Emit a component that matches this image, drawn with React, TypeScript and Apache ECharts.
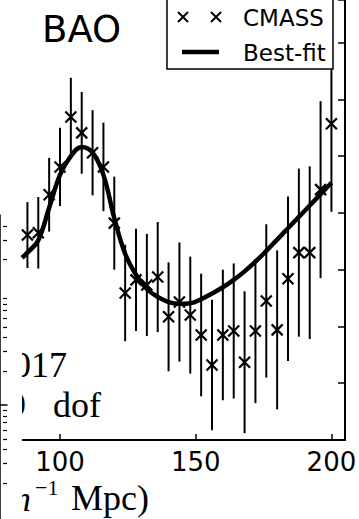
import React, { useEffect, useRef } from "react";
import * as echarts from "echarts";

// CMASS correlation function measurements (s in h^-1 Mpc)
const sValues = [88, 92, 96, 100, 104, 108, 112, 116, 120, 124, 128, 132, 136, 140, 144, 148, 152, 156, 160, 164, 168, 172, 176, 180, 184, 188, 192, 196, 200];
const xiValues = [36.1, 36.5, 43.2, 48.1, 56.9, 54.1, 50.6, 48.1, 38.2, 25.9, 28.2, 27.3, 28.7, 21.7, 24.3, 22.0, 18.5, 13.2, 18.5, 19.2, 13.7, 19.2, 24.5, 19.4, 28.4, 33.0, 33.0, 44.1, 55.7];
const xiErrors = [5.8, 6.3, 6.5, 6.9, 6.9, 7.2, 7.5, 7.8, 8.2, 8.5, 9.0, 9.0, 9.7, 9.6, 10.5, 10.3, 10.8, 11.5, 11.5, 11.9, 12.5, 12.7, 13.5, 14.0, 14.5, 14.8, 15.2, 15.6, 15.5];

// Best-fit model
const fitS = [86, 88, 92, 96, 100, 104, 108, 112, 116, 120, 124, 128, 132, 136, 140, 144, 148, 152, 156, 160, 164, 168, 172, 176, 180, 184, 188, 192, 196, 200];
const fitValues = [32.1, 33.0, 35.2, 40.9, 46.7, 50.0, 51.6, 50.6, 46.7, 39.1, 32.8, 29.1, 26.6, 25.2, 24.3, 24.0, 24.1, 24.8, 25.8, 26.9, 28.2, 29.7, 31.4, 33.3, 35.3, 37.3, 39.3, 41.3, 43.3, 45.3];

// Axis ticks
const sTicks = [100, 150, 200];
const xiTickStep = 10;

// Neighbouring log-scale panel (right spine only)
const sideRange = [0.0959, 50];
const sideMajor = [0.1, 1, 10];
const sideMinor = [0.2, 0.3, 0.4, 0.5, 0.6, 0.7, 0.8, 0.9, 2, 3, 4, 5, 6, 7, 8, 9, 20, 30, 40];

const SANS = "DejaVu Sans";
const SERIF = "Liberation Serif";

const axisLine = { show: true, lineStyle: { color: "#000", width: 2 } };

function App() {
  const ref = useRef<HTMLDivElement>(null);

  useEffect(() => {
    const chart = echarts.init(ref.current!, null, { renderer: "svg" });
    const lg = (v: number) => Math.log10(v);

    const cross = (cx: number, cy: number, h: number, w: number) => [
      { type: "line", shape: { x1: cx - h, y1: cy - h, x2: cx + h, y2: cy + h }, style: { stroke: "#000", lineWidth: w } },
      { type: "line", shape: { x1: cx - h, y1: cy + h, x2: cx + h, y2: cy - h }, style: { stroke: "#000", lineWidth: w } },
    ];

    const option: any = {
      animation: false,
      backgroundColor: "#fff",
      grid: [
        { left: 22, right: 14, top: 0, bottom: 79, containLabel: false, outerBoundsMode: "none" },
        { left: 0, right: 352, top: 215, bottom: 0, containLabel: false, outerBoundsMode: "none" },
      ],
      xAxis: [
        {
          gridIndex: 0,
          type: "value",
          min: 86,
          max: 205,
          axisLine,
          axisTick: { show: true, inside: true, length: 6, customValues: sTicks, lineStyle: { color: "#000", width: 1.5 } },
          axisLabel: { show: false },
          splitLine: { show: false },
        },
        {
          gridIndex: 1,
          type: "value",
          position: "top",
          min: 0,
          max: 1,
          axisLine: { show: true, lineStyle: { color: "#000", width: 1.5 } },
          axisTick: { show: false },
          axisLabel: { show: false },
          splitLine: { show: false },
        },
      ],
      yAxis: [
        {
          gridIndex: 0,
          type: "value",
          position: "right",
          min: 0,
          max: 77.5,
          interval: xiTickStep,
          axisLine,
          axisTick: { show: true, inside: true, length: 7, lineStyle: { color: "#000", width: 1.5 } },
          axisLabel: { show: false },
          splitLine: { show: false },
        },
        {
          gridIndex: 1,
          type: "value",
          position: "right",
          min: lg(sideRange[0]),
          max: lg(sideRange[1]),
          axisLine: { show: true, lineStyle: { color: "#000", width: 1.5 } },
          axisTick: { show: true, inside: true, length: 7, customValues: sideMajor.map(lg), lineStyle: { color: "#000", width: 1.2 } },
          axisLabel: { show: false },
          splitLine: { show: false },
        },
        {
          gridIndex: 1,
          type: "value",
          position: "right",
          min: lg(sideRange[0]),
          max: lg(sideRange[1]),
          axisLine: { show: false },
          axisTick: { show: true, inside: true, length: 4, customValues: sideMinor.map(lg), lineStyle: { color: "#000", width: 1.2 } },
          axisLabel: { show: false },
          splitLine: { show: false },
        },
      ],
      series: [
        {
          name: "Best-fit",
          type: "line",
          xAxisIndex: 0,
          yAxisIndex: 0,
          data: fitS.map((s, i) => [s, fitValues[i]]),
          smooth: 0.4,
          showSymbol: false,
          symbol: "none",
          lineStyle: { color: "#000", width: 4.5 },
          z: 3,
        },
        {
          name: "CMASS",
          type: "custom",
          xAxisIndex: 0,
          yAxisIndex: 0,
          data: sValues.map((s, i) => [s, xiValues[i], xiErrors[i]]),
          encode: { x: 0, y: 1 },
          renderItem: (params: any, api: any) => {
            const s = api.value(0);
            const v = api.value(1);
            const e = api.value(2);
            const c = api.coord([s, v]);
            const hi = api.coord([s, v + e]);
            const lo = api.coord([s, v - e]);
            return {
              type: "group",
              children: [
                { type: "line", shape: { x1: hi[0], y1: hi[1], x2: lo[0], y2: lo[1] }, style: { stroke: "#000", lineWidth: 2 } },
                ...cross(c[0], c[1], 5.5, 2.2),
              ],
            };
          },
          z: 4,
        },
      ],
    };

    chart.setOption(option);

    // s-axis tick labels, placed through the axis scale
    const axisY = chart.convertToPixel({ yAxisIndex: 0 }, 0) as number;
    const tickLabels = sTicks.map((s) => ({
      type: "text",
      z: 20,
      style: {
        text: String(s),
        x: chart.convertToPixel({ xAxisIndex: 0 }, s) as number,
        y: axisY + 22,
        fontSize: 26,
        fontFamily: SANS,
        fill: "#000",
        align: "center",
        verticalAlign: "middle",
        textAlign: "center",
        textVerticalAlign: "middle",
      },
    }));

    chart.setOption({
      graphic: [
        ...tickLabels,
        // text from the neighbouring panel, cut at the panel edge
        { type: "text", z: 1, style: { text: "017", x: 67, y: 365, fontSize: 36, fontFamily: SERIF, fill: "#000", align: "right", verticalAlign: "middle", textAlign: "right", textVerticalAlign: "middle" } },
        { type: "text", z: 1, style: { text: "9", x: 26, y: 405, fontSize: 36, fontFamily: SERIF, fill: "#000", align: "right", verticalAlign: "middle", textAlign: "right", textVerticalAlign: "middle" } },
        { type: "text", z: 1, style: { text: "dof", x: 53, y: 405, fontSize: 36, fontFamily: SERIF, fill: "#000", verticalAlign: "middle", textVerticalAlign: "middle" } },
        { type: "text", z: 1, style: { text: "h", x: 31, y: 499, fontSize: 36, fontFamily: SERIF, fontStyle: "italic", fill: "#000", align: "right", verticalAlign: "middle", textAlign: "right", textVerticalAlign: "middle" } },
        { type: "text", z: 1, style: { text: "\u22121", x: 35, y: 487, fontSize: 22, fontFamily: SERIF, fill: "#000", verticalAlign: "middle", textVerticalAlign: "middle" } },
        { type: "text", z: 1, style: { text: "Mpc)", x: 71, y: 498, fontSize: 36, fontFamily: SERIF, fill: "#000", verticalAlign: "middle", textVerticalAlign: "middle" } },
        { type: "rect", z: 2, shape: { x: 8, y: 340, width: 14, height: 179 }, style: { fill: "#fff" } },

        // panel title
        { type: "text", z: 20, style: { text: "BAO", x: 42, y: 29, fontSize: 37, fontFamily: SANS, fill: "#000", verticalAlign: "middle", textVerticalAlign: "middle" } },

        // legend
        { type: "rect", z: 100, shape: { x: 167, y: -10, width: 166, height: 79 }, style: { fill: "#fff", stroke: "#000", lineWidth: 1.5 } },
        ...cross(183, 17, 5, 2).map((el) => ({ ...el, z: 101 })),
        ...cross(216, 17, 5, 2).map((el) => ({ ...el, z: 101 })),
        { type: "line", z: 101, shape: { x1: 182, y1: 52, x2: 219, y2: 52 }, style: { stroke: "#000", lineWidth: 4.5 } },
        { type: "text", z: 101, style: { text: "CMASS", x: 243, y: 17.5, fontSize: 23, fontFamily: SANS, fill: "#000", verticalAlign: "middle", textVerticalAlign: "middle" } },
        { type: "text", z: 101, style: { text: "Best-fit", x: 243, y: 53, fontSize: 23, fontFamily: SANS, fill: "#000", verticalAlign: "middle", textVerticalAlign: "middle" } },
      ],
    });

    return () => chart.dispose();
  }, []);

  return (
    <div
      ref={ref}
      style={{ position: "absolute", left: 0, top: 0, width: 359, height: 519, background: "#fff" }}
    />
  );
}

export default App;
